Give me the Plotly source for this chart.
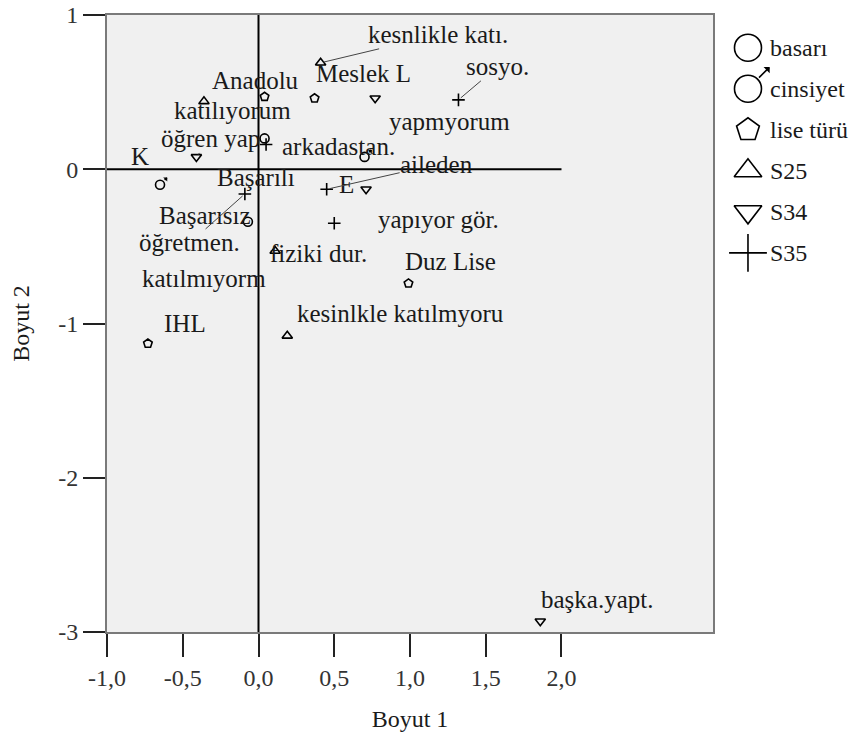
import plotly.graph_objects as go

# ---- Category quantifications (Boyut 1 = x, Boyut 2 = y) ----
basari_labels = ["Başarılı", "Başarısız"]
basari_x = [0.04, -0.07]
basari_y = [0.20, -0.34]

cinsiyet_labels = ["K", "E"]
cinsiyet_x = [-0.65, 0.70]
cinsiyet_y = [-0.10, 0.08]

lise_labels = ["Anadolu", "Meslek L", "Duz Lise", "IHL"]
lise_x = [0.04, 0.37, 0.99, -0.73]
lise_y = [0.47, 0.46, -0.74, -1.13]

s25_labels = ["kesnlikle katı.", "katılıyorum", "katılmıyorm", "kesinlkle katılmyoru"]
s25_x = [0.41, -0.36, 0.11, 0.19]
s25_y = [0.69, 0.44, -0.53, -1.08]

s34_labels = ["yapmyorum", "öğren yap", "yapıyor gör.", "başka.yapt."]
s34_x = [0.77, -0.41, 0.71, 1.86]
s34_y = [0.46, 0.08, -0.13, -2.93]

s35_labels = ["sosyo.", "arkadastan.", "aileden", "öğretmen.", "fiziki dur."]
s35_x = [1.32, 0.05, 0.45, -0.09, 0.50]
s35_y = [0.45, 0.16, -0.13, -0.16, -0.35]

legend_names = ["basarı", "cinsiyet", "lise türü", "S25", "S34", "S35"]

x_ticks = [-1.0, -0.5, 0.0, 0.5, 1.0, 1.5, 2.0]
y_ticks = [-3, -2, -1, 0, 1]

# ---- Styling ----
SERIF = "Liberation Serif"
TEXT = "#1a1a1a"
series = [
    (basari_labels, basari_x, basari_y, "circle-open"),
    (cinsiyet_labels, cinsiyet_x, cinsiyet_y, "male"),
    (lise_labels, lise_x, lise_y, "pentagon-open"),
    (s25_labels, s25_x, s25_y, "triangle-up-open"),
    (s34_labels, s34_x, s34_y, "triangle-down-open"),
    (s35_labels, s35_x, s35_y, "cross-thin-open"),
]

# label placement: (dx, dy) pixel offset of the label centre, leader line flag
label_pos = {
    "Başarılı": (-9, 39, False),
    "Başarısız": (-43, -6, False),
    "K": (-20, -28, False),
    "E": (-18, 28, False),
    "Anadolu": (-9, -16, False),
    "Meslek L": (49, -25, False),
    "Duz Lise": (42, -22, False),
    "IHL": (37, -20, False),
    "kesnlikle katı.": (117, -28, True),
    "katılıyorum": (29, 9, False),
    "katılmıyorm": (-71, 27, False),
    "kesinlkle katılmyoru": (113, -22, False),
    "yapmyorum": (74, 23, False),
    "öğren yap": (14, -18, True),
    "yapıyor gör.": (72, 30, False),
    "başka.yapt.": (57, -22, False),
    "sosyo.": (39, -33, True),
    "arkadastan.": (72, 2, False),
    "aileden": (110, -25, True),
    "öğretmen.": (-55, 49, True),
    "fiziki dur.": (-16, 30, False),
}

fig = go.Figure()


def add_points(xs, ys, sym, size, xa="x", ya="y"):
    """Draw category points; the male sign is a ring with a small arrow."""
    marker_sym = "circle-open" if sym == "male" else sym
    fig.add_trace(go.Scatter(
        x=xs, y=ys, mode="markers",
        marker=dict(symbol=marker_sym, size=size, color="black",
                    line=dict(color="black", width=1.6)),
        showlegend=False, hoverinfo="skip", xaxis=xa, yaxis=ya))
    if sym == "male":
        r = size / 2.0
        d = r * 0.707
        arm = r * 0.9
        for xv, yv in zip(xs, ys):
            fig.add_annotation(
                x=xv, y=yv, xref=xa, yref=ya, text="", showarrow=True,
                xshift=d + arm, yshift=d + arm,
                ax=-arm, ay=arm, axref="pixel", ayref="pixel",
                arrowhead=1, arrowsize=0.9 if size > 15 else 0.6,
                arrowwidth=1.6, arrowcolor="black", standoff=0, startstandoff=0)


label_font = dict(family=SERIF, size=25, color=TEXT)
for labels, xs, ys, sym in series:
    add_points(xs, ys, sym, 9)
    for lab, xv, yv in zip(labels, xs, ys):
        dx, dy, leader = label_pos[lab]
        if leader:
            fig.add_annotation(x=xv, y=yv, text=lab, showarrow=True,
                               ax=dx, ay=dy, axref="pixel", ayref="pixel",
                               arrowhead=0, arrowwidth=1, arrowcolor="#444444",
                               standoff=3, font=label_font, borderpad=0)
        else:
            fig.add_annotation(x=xv, y=yv, text=lab, showarrow=False,
                               xshift=dx, yshift=-dy, font=label_font, borderpad=0)

# ---- Legend drawn on its own small subplot ----
for i, ((_, _, _, sym), name) in enumerate(zip(series, legend_names)):
    ly = 0.947 - i * 0.0665
    add_points([0.206], [ly], sym, 27 if sym in ("cross-thin-open", "circle-open", "male") else 24,
               xa="x2", ya="y2")
    fig.add_annotation(x=0.365, y=ly, xref="x2", yref="y2", text=name,
                       showarrow=False, xanchor="left",
                       font=dict(family=SERIF, size=24, color=TEXT))

# ---- Reference axes through the origin and panel background ----
fig.add_shape(type="rect", xref="x domain", yref="y domain", x0=0, x1=1, y0=0, y1=1,
              fillcolor="#f0f0f0", line=dict(width=0), layer="below")
fig.add_shape(type="line", xref="x", yref="y", x0=x_ticks[0], x1=x_ticks[-1], y0=0, y1=0,
              line=dict(color="black", width=2))
fig.add_shape(type="line", xref="x", yref="y", x0=0, x1=0, y0=y_ticks[0], y1=y_ticks[-1],
              line=dict(color="black", width=2))

tickfont = dict(family=SERIF, size=24, color="#333333")
title_font = dict(family=SERIF, size=24, color=TEXT)
fig.update_layout(
    width=858, height=738,
    margin=dict(l=107, r=10, t=15, b=106),
    paper_bgcolor="white", plot_bgcolor="white",
    showlegend=False,
    xaxis=dict(domain=[0, 0.8178], range=[-1, 3], tickvals=x_ticks,
               ticktext=[f"{v:.1f}".replace(".", ",") for v in x_ticks],
               ticks="outside", ticklen=23, tickwidth=2, tickcolor="#222222",
               showline=True, linecolor="#7a7a7a", linewidth=2, mirror=True,
               showgrid=False, zeroline=False, tickfont=tickfont, automargin=False,
               title=dict(text="Boyut 1", font=title_font, standoff=20)),
    yaxis=dict(range=[-3, 1], tickvals=y_ticks,
               ticktext=[str(v) for v in y_ticks],
               ticks="outside", ticklen=22, tickwidth=2, tickcolor="#222222",
               showline=True, linecolor="#7a7a7a", linewidth=2, mirror=True,
               showgrid=False, zeroline=False, tickfont=tickfont, automargin=False,
               title=dict(text="Boyut 2", font=title_font, standoff=22)),
    xaxis2=dict(domain=[0.83, 1.0], range=[0, 1], visible=False, anchor="y2"),
    yaxis2=dict(domain=[0, 1], range=[0, 1], visible=False, anchor="x2"),
)

fig.write_html("out.html")
